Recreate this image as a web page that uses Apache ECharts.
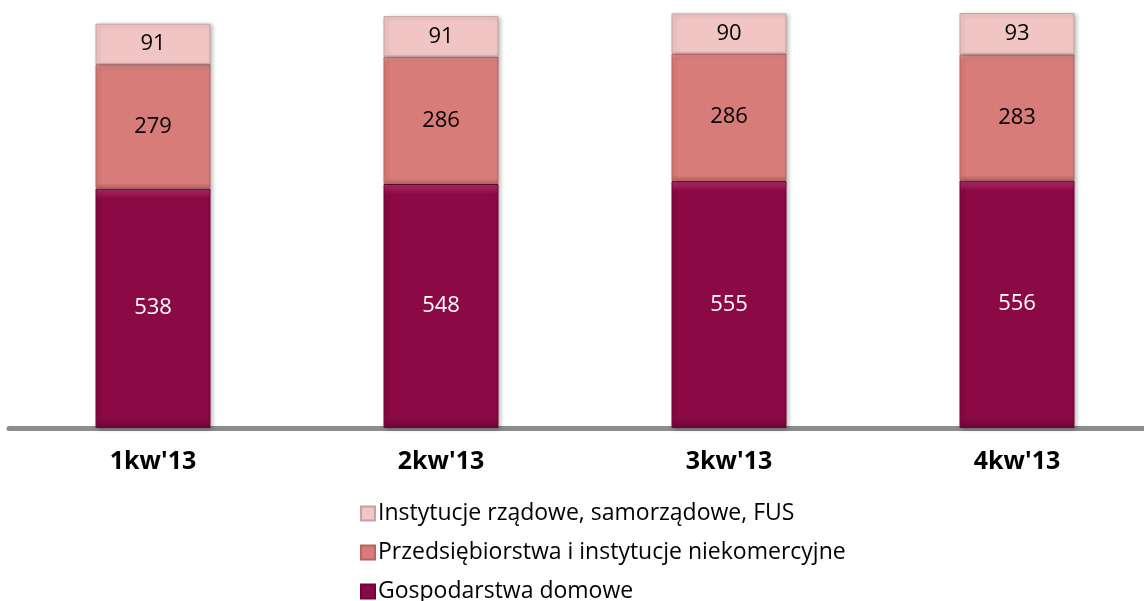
<!DOCTYPE html>
<html>
<head>
<meta charset="utf-8">
<script src="https://cdn.jsdelivr.net/npm/echarts@6/dist/echarts.min.js"></script>
<style>
html,body{margin:0;padding:0;background:#fff;}
#c{width:1144px;height:601px;}
</style>
</head>
<body>
<div id="c"></div>
<script>
var categories = ["1kw'13", "2kw'13", "3kw'13", "4kw'13"];
var households = [538, 548, 555, 556];
var enterprises = [279, 286, 286, 283];
var government = [91, 91, 90, 93];
var seriesNames = ["Gospodarstwa domowe", "Przedsiębiorstwa i instytucje niekomercyjne", "Instytucje rządowe, samorządowe, FUS"];

var FONT = "'Open Sans', 'Noto Sans', sans-serif";

function grad(top, mid, bottom) {
  return new echarts.graphic.LinearGradient(0, 0, 0, 1, [
    {offset: 0, color: top},
    {offset: 0.04, color: mid},
    {offset: 0.96, color: mid},
    {offset: 1, color: bottom}
  ]);
}

function mkSeries(name, data, fill, gradTop, gradBottom, border, labelColor) {
  return {
    name: name,
    type: 'bar',
    stack: 'total',
    barWidth: 115,
    data: data,
    itemStyle: {
      color: grad(gradTop, fill, gradBottom),
      borderColor: border,
      borderWidth: 1,
      shadowColor: 'rgba(0,0,0,0.25)',
      shadowBlur: 4,
      shadowOffsetX: 2,
      shadowOffsetY: 1
    },
    label: {
      show: true,
      position: 'inside',
      color: labelColor,
      fontFamily: FONT,
      fontSize: 22
    }
  };
}

var chart = echarts.init(document.getElementById('c'), null, {renderer: 'canvas'});
chart.setOption({
  animation: false,
  backgroundColor: '#ffffff',
  grid: {left: 9, right: -17, top: 5, bottom: 173, containLabel: false, outerBoundsMode: 'none'},
  xAxis: {
    type: 'category',
    data: categories,
    axisLine: {show: true, lineStyle: {color: '#8c8c8c', width: 5}},
    axisTick: {show: false},
    axisLabel: {
      margin: 21,
      color: '#000',
      fontFamily: FONT,
      fontWeight: 'bold',
      fontSize: 25
    }
  },
  yAxis: {
    type: 'value',
    min: 0,
    max: 950,
    show: false,
    splitLine: {show: false}
  },
  legend: {
    orient: 'vertical',
    left: 360,
    top: 502,
    height: 120,
    padding: 0,
    itemWidth: 14,
    itemHeight: 14,
    itemGap: 16,
    icon: 'rect',
    data: [seriesNames[2], seriesNames[1], seriesNames[0]],
    textStyle: {
      color: '#000',
      fontFamily: FONT,
      fontSize: 23,
      lineHeight: 23,
      padding: [0, 0, 0, -2]
    }
  },
  series: [
    mkSeries(seriesNames[0], households, '#8b0944', '#b8306e', '#6e0535', '#6e0535', '#ffffff'),
    mkSeries(seriesNames[1], enterprises, '#d77c79', '#f2a09c', '#b96461', '#b96461', '#000000'),
    mkSeries(seriesNames[2], government, '#f2c5c5', '#fbe2e2', '#d3a5a5', '#c9a0a0', '#000000')
  ]
});
</script>
</body>
</html>
